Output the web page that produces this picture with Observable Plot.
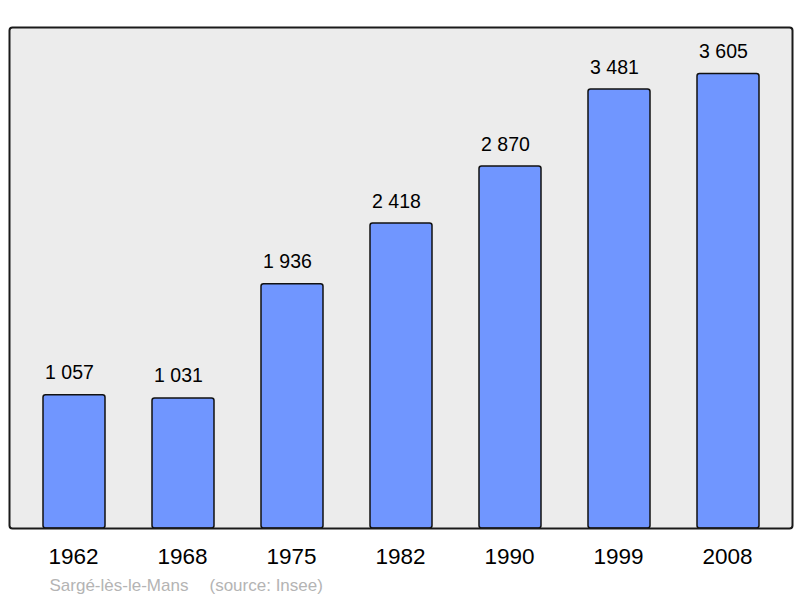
<!DOCTYPE html>
<html>
<head>
<meta charset="utf-8">
<script src="https://cdn.jsdelivr.net/npm/d3@7"></script>
<script src="https://cdn.jsdelivr.net/npm/@observablehq/plot@0.6"></script>
<style>
  html, body { margin: 0; padding: 0; background: #fff; }
  svg { display: block; }
</style>
</head>
<body>
<div id="chart"></div>
<script>
const years = ["1962", "1968", "1975", "1982", "1990", "1999", "2008"];
const population = [1057, 1031, 1936, 2418, 2870, 3481, 3605];
const place = "Sargé-lès-le-Mans";
const source = "(source: Insee)";

const data = years.map((year, i) => ({year, value: population[i]}));
const fmt = d3.formatLocale({decimal: ",", thousands: "\u00a0", grouping: [3], currency: ["", "€"]}).format(",");

const chart = Plot.plot({
  width: 800,
  height: 598,
  marginLeft: 9,
  marginRight: 8,
  marginTop: 27,
  marginBottom: 70,
  style: {fontFamily: "'Liberation Sans', Arial, sans-serif", background: "#fff", color: "#000"},
  x: {domain: years, paddingInner: 0.433, paddingOuter: 0.295, label: null},
  y: {domain: [0, 3973], axis: null},
  marks: [
    Plot.frame({fill: "#ececec", stroke: null, rx: 3}),
    Plot.barY(data, {x: "year", y: "value", fill: "#7096ff", stroke: "#111", strokeWidth: 1.5, rx: 2.5}),
    Plot.text(data, {x: "year", y: "value", text: d => fmt(d.value), dx: -5, dy: -16, lineAnchor: "bottom", fontSize: 19.5, fill: "#000"}),
    Plot.frame({stroke: "#1a1a1a", strokeWidth: 2, rx: 3, fill: "none"}),
    Plot.axisX({tickSize: 0, tickPadding: 20, fontSize: 22.5, label: null, fill: "#000", dx: -1}),
    Plot.text([place], {frameAnchor: "bottom-left", text: d => d, dx: 40, dy: 62, lineAnchor: "bottom", textAnchor: "start", fontSize: 17, fill: "#b4b4b4"}),
    Plot.text([source], {frameAnchor: "bottom-left", text: d => d, dx: 200, dy: 62, lineAnchor: "bottom", textAnchor: "start", fontSize: 17, fill: "#b4b4b4"})
  ]
});
document.getElementById("chart").appendChild(chart);
</script>
</body>
</html>
